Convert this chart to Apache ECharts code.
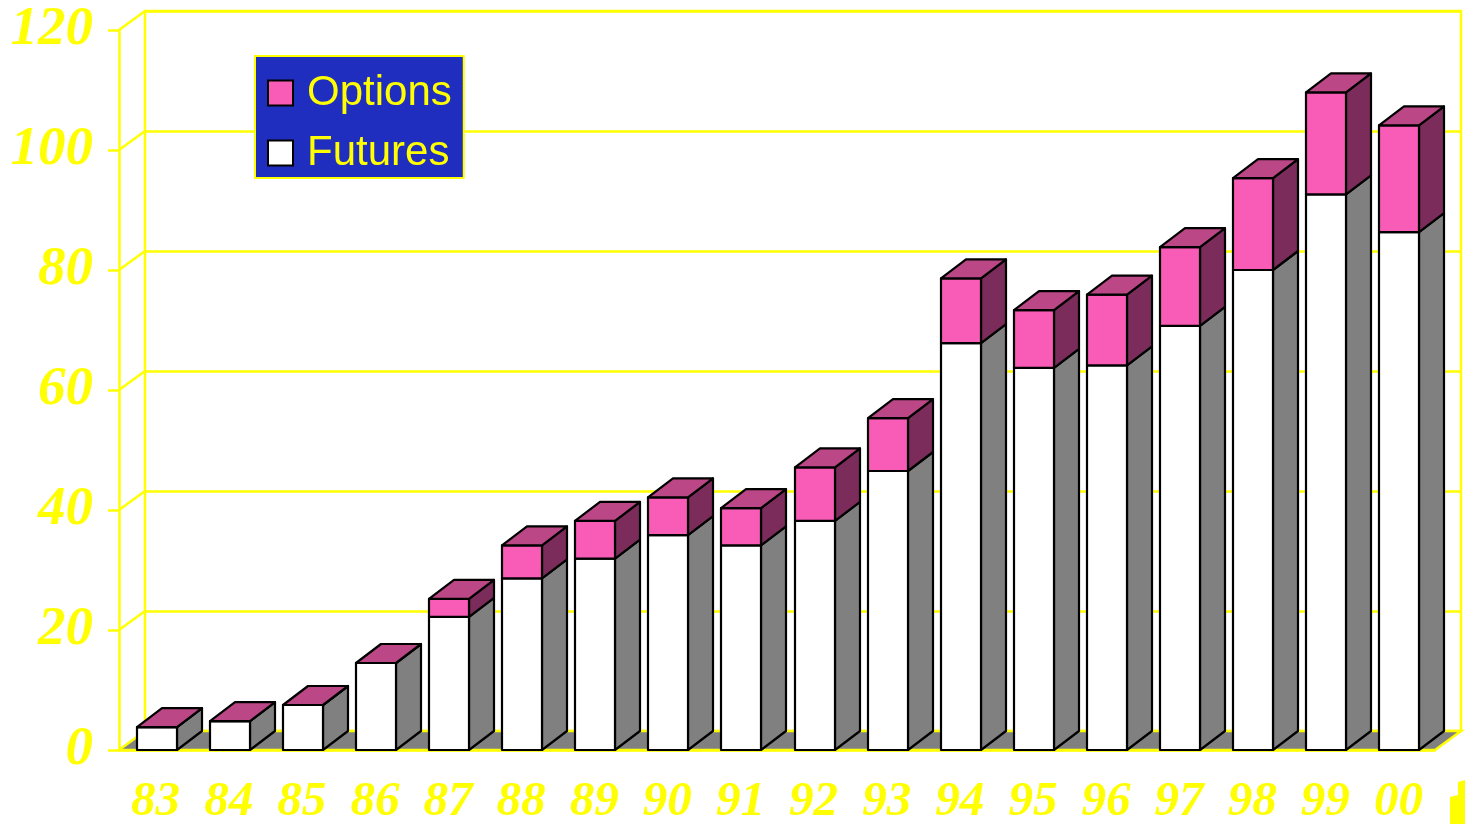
<!DOCTYPE html>
<html>
<head>
<meta charset="utf-8">
<script src="https://cdn.jsdelivr.net/npm/echarts@6/dist/echarts.min.js"></script>
<style>
  html, body { margin: 0; padding: 0; background: #fff; }
  #main { width: 1465px; height: 824px; }
</style>
</head>
<body>
<div id="main"></div>
<script>
var years = ['83', '84', '85', '86', '87', '88', '89', '90', '91', '92', '93', '94', '95', '96', '97', '98', '99', '00'];
var futures = [3.8, 4.8, 7.5, 14.5, 22.2, 28.6, 31.9, 35.8, 34.1, 38.2, 46.5, 67.8, 63.7, 64.1, 70.7, 80.0, 92.6, 86.3];
var options = [0, 0, 0, 0, 3.0, 5.5, 6.3, 6.3, 6.2, 8.9, 8.8, 10.8, 9.6, 11.8, 13.1, 15.3, 17.0, 17.8];
var yTicks = [0, 20, 40, 60, 80, 100, 120];

var myChart = echarts.init(document.getElementById('main'));

// depth of the 3d look
var WALL_DX = 26, WALL_DY = -19;
var BAR_W = 40, BAR_SHIFT = 1, DX = 25, DY = -19;
var YELLOW = '#FFFF00';

var futData = [], optData = [];
for (var i = 0; i < years.length; i++) {
    futData.push([i, 0, futures[i]]);
    optData.push([i, futures[i], futures[i] + options[i]]);
}

function box(api, front, side, top) {
    var i = api.value(0);
    var p0 = api.coord([i, api.value(1)]);
    var p1 = api.coord([i, api.value(2)]);
    var xl = Math.round(p0[0] - BAR_W / 2 + BAR_SHIFT), xr = xl + BAR_W;
    var yb = p0[1], yt = p1[1];
    var line = { stroke: '#000', lineWidth: 2.2, lineJoin: 'round' };
    var children = [
        {
            type: 'polygon',
            shape: { points: [[xr, yb], [xr + DX, yb + DY], [xr + DX, yt + DY], [xr, yt]] },
            style: Object.assign({ fill: side }, line)
        },
        {
            type: 'rect',
            shape: { x: xl, y: yt, width: BAR_W, height: yb - yt },
            style: Object.assign({ fill: front }, line)
        }
    ];
    if (top) {
        children.push({
            type: 'polygon',
            shape: { points: [[xl, yt], [xr, yt], [xr + DX, yt + DY], [xl + DX, yt + DY]] },
            style: Object.assign({ fill: top }, line)
        });
    }
    return { type: 'group', children: children };
}

var option = {
    backgroundColor: '#fff',
    animation: false,
    legend: {
        orient: 'vertical',
        left: 255,
        top: 56,
        backgroundColor: '#1F2EBF',
        borderColor: YELLOW,
        borderWidth: 2,
        borderRadius: 0,
        padding: [16, 12, 4, 12],
        itemWidth: 25,
        itemHeight: 25,
        itemGap: 18,
        textStyle: {
            color: YELLOW,
            fontFamily: 'Liberation Sans',
            fontSize: 42,
            padding: [0, 0, 0, 9]
        },
        data: [
            { name: 'Options', icon: 'rect', itemStyle: { color: '#F95CB6', borderColor: '#000', borderWidth: 2 } },
            { name: 'Futures', icon: 'rect', itemStyle: { color: '#FFFFFF', borderColor: '#000', borderWidth: 2 } }
        ]
    },
    grid: [
        { left: 119, right: 30, top: 30, bottom: 74, outerBoundsMode: 'none', containLabel: false },
        {
            left: 119 + WALL_DX, right: 30 - WALL_DX, top: 30 + WALL_DY, bottom: 74 - WALL_DY,
            outerBoundsMode: 'none', containLabel: false,
            show: true, borderColor: YELLOW, borderWidth: 2.5, backgroundColor: 'transparent'
        }
    ],
    xAxis: [
        {
            type: 'category',
            data: years,
            gridIndex: 0,
            axisLine: { lineStyle: { color: YELLOW, width: 2.5 } },
            axisTick: { lineStyle: { color: YELLOW, width: 2.5 }, length: 11 },
            axisLabel: {
                color: YELLOW,
                fontFamily: 'Liberation Serif',
                fontStyle: 'italic',
                fontWeight: 'bold',
                fontSize: 49,
                margin: 28
            }
        },
        { type: 'category', data: years, gridIndex: 1, show: false }
    ],
    yAxis: [
        {
            type: 'value',
            gridIndex: 0,
            min: 0, max: 120, interval: 20,
            axisLine: { show: true, lineStyle: { color: YELLOW, width: 2.5 } },
            axisTick: { show: true, length: 11, lineStyle: { color: YELLOW, width: 2.5 } },
            splitLine: { show: false },
            axisLabel: {
                color: YELLOW,
                fontFamily: 'Liberation Serif',
                fontStyle: 'italic',
                fontWeight: 'bold',
                fontSize: 55,
                margin: 26
            }
        },
        {
            type: 'value',
            gridIndex: 1,
            min: 0, max: 120, interval: 20,
            axisLine: { show: false },
            axisTick: { show: false },
            axisLabel: { show: false },
            splitLine: { lineStyle: { color: YELLOW, width: 2.5 } }
        }
    ],
    series: [
        {
            // grey floor
            type: 'custom',
            xAxisIndex: 0, yAxisIndex: 0,
            z: 1,
            silent: true,
            data: [[0]],
            renderItem: function (params, api) {
                var cs = params.coordSys;
                var y0 = api.coord([0, 0])[1];
                var xl = cs.x, xr = cs.x + cs.width;
                return {
                    type: 'group',
                    children: [
                        {
                            type: 'polygon',
                            shape: { points: [[xl, y0], [xr, y0], [xr + WALL_DX, y0 + WALL_DY], [xl + WALL_DX, y0 + WALL_DY]] },
                            style: { fill: '#808080' }
                        },
                        {
                            type: 'polyline',
                            shape: { points: [[xl, y0], [xr, y0], [xr + WALL_DX, y0 + WALL_DY], [xl + WALL_DX, y0 + WALL_DY]] },
                            style: { stroke: YELLOW, lineWidth: 2.5, fill: null }
                        }
                    ]
                };
            }
        },
        {
            // side wall diagonals
            type: 'custom',
            xAxisIndex: 0, yAxisIndex: 0,
            z: 1,
            silent: true,
            data: yTicks.map(function (v) { return [0, v]; }),
            renderItem: function (params, api) {
                var cs = params.coordSys;
                var y = api.coord([0, api.value(1)])[1];
                return {
                    type: 'line',
                    shape: { x1: cs.x, y1: y, x2: cs.x + WALL_DX, y2: y + WALL_DY },
                    style: { stroke: YELLOW, lineWidth: 2.5 }
                };
            }
        },
        {
            name: 'Futures',
            type: 'custom',
            xAxisIndex: 0, yAxisIndex: 0,
            z: 3,
            itemStyle: { color: '#FFFFFF' },
            data: futData,
            renderItem: function (params, api) {
                return box(api, '#FFFFFF', '#808080', null);
            }
        },
        {
            name: 'Options',
            type: 'custom',
            xAxisIndex: 0, yAxisIndex: 0,
            z: 4,
            itemStyle: { color: '#F95CB6' },
            data: optData,
            renderItem: function (params, api) {
                return box(api, '#F95CB6', '#7B2C5A', '#BC4786');
            }
        }
    ],
    graphic: [
        {
            type: 'polygon',
            silent: true,
            shape: { points: [[1458, 782], [1465, 780], [1465, 824], [1450, 824], [1450, 797], [1458, 795]] },
            style: { fill: YELLOW }
        }
    ]
};

myChart.setOption(option);
</script>
</body>
</html>
